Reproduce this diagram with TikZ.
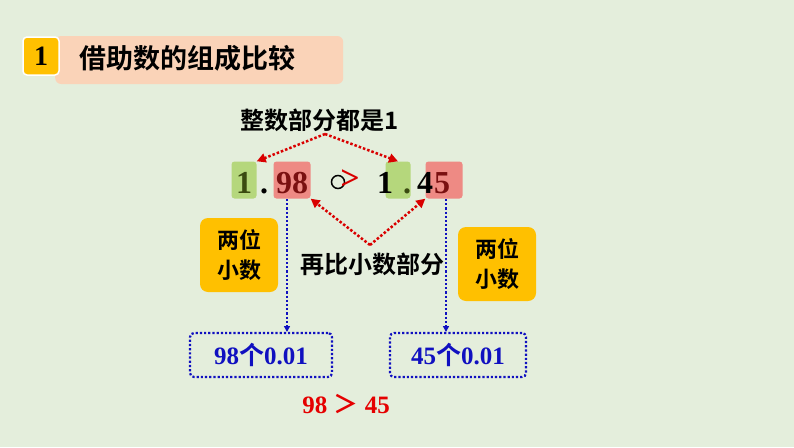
\documentclass[tikz,border=0pt]{standalone}
\usepackage{fontspec}
\setmainfont{Liberation Serif}
\newfontfamily\cjk{Noto Sans CJK SC}[BoldFont={* Bold}]
\usetikzlibrary{arrows.meta}
\definecolor{bg}{HTML}{E4EEDC}
\definecolor{peach}{HTML}{FAD3B8}
\definecolor{gold}{HTML}{FFC000}
\definecolor{lgreen}{HTML}{B5D77C}
\definecolor{lred}{HTML}{EE8A84}
\definecolor{dred}{HTML}{7A1010}
\definecolor{dgreen}{HTML}{3A4A10}
\definecolor{blu}{HTML}{1010C0}
\tikzset{
 dig/.style={font=\fontsize{32}{32}\selectfont\bfseries, inner sep=0pt, anchor=base},
 gbox/.style={fill=lgreen, rounded corners=3pt, minimum width=25pt, minimum height=37pt, inner sep=0pt},
 rbox/.style={fill=lred, rounded corners=3pt, minimum width=37pt, minimum height=37pt, inner sep=0pt},
 obox/.style={fill=gold, rounded corners=8pt, minimum width=78pt, minimum height=74pt, align=center, font=\cjk\bfseries\fontsize{22}{30}\selectfont},
 bbox/.style={draw=blu, dotted, line width=2.2pt, rounded corners=4pt, minimum height=44pt, text=blu, font=\fontsize{25}{25}\selectfont\bfseries},
 rarr/.style={red!85!black, dotted, line width=2.5pt, -{Triangle[length=9pt,width=9pt]}},
 barr/.style={blu, dotted, line width=2.2pt, -{Triangle[length=6pt,width=6pt]}},
 lab/.style={font=\cjk\bfseries\fontsize{24}{24}\selectfont, inner sep=1pt}
}
\begin{document}
\begin{tikzpicture}[x=1pt,y=-1pt]
\fill[bg] (0,0) rectangle (794,447);
\node[fill=peach, rounded corners=6pt, minimum width=288pt, minimum height=48pt, anchor=west] (bar) at (55,60) {};
\node[anchor=west, font=\cjk\bfseries\fontsize{27}{27}\selectfont] (title) at (76,58) {借助数的组成比较};
\node[fill=gold, draw=white, line width=1.5pt, rounded corners=4pt, minimum width=36pt, minimum height=38pt, font=\fontsize{28}{28}\selectfont\bfseries] (num) at (41,56) {1};
\node[lab] (top) at (320,120) {整数部分都是1};
\node[gbox] (g1) at (244,180) {};
\node[dig, text=dgreen] (one1) at (244,193) {1};
\node[dig] (dot1) at (264,193) {.};
\node[rbox] (r1) at (292,180) {};
\node[dig, text=dred] (n98) at (292,193) {98};
\draw[line width=1.5pt] (338,182) circle (6.5pt);
\node[text=red!85!black, font=\fontsize{34}{34}\selectfont\bfseries, inner sep=0pt] (gt) at (350,180) {>};
\node[gbox] (g2) at (398,180) {};
\node[dig] (one2) at (385,193) {1};
\node[dig, text=dgreen] (dot2) at (407,193) {.};
\node[rbox] (r2) at (444,180) {};
\node[dig] (n4) at (425,193) {4};
\node[dig, text=dred] (n5) at (442,193) {5};
\coordinate (t) at (325,134);
\draw[rarr] (t) -- (g1.north east);
\draw[rarr] (t) -- (g2.north);
\coordinate (m) at (370,245);
\draw[rarr] (m) -- (r1.south east);
\draw[rarr] (m) -- (r2.south west);
\node[obox] (o1) at (239,255) {两位\\小数};
\node[obox] (o2) at (497,264) {两位\\小数};
\node[lab] (cmp) at (372,264) {再比小数部分};
\node[bbox, minimum width=142pt] (b1) at (261,355) {98{\cjk 个}0.01};
\node[bbox, minimum width=136pt] (b2) at (458,355) {45{\cjk 个}0.01};
\draw[barr] (287,199) -- (287,332);
\draw[barr] (446,199) -- (446,332);
\node[text=red!90!black, font=\fontsize{25}{25}\selectfont\bfseries] (res) at (346,404) {98 {\cjk ＞} 45};
\end{tikzpicture}
\end{document}
